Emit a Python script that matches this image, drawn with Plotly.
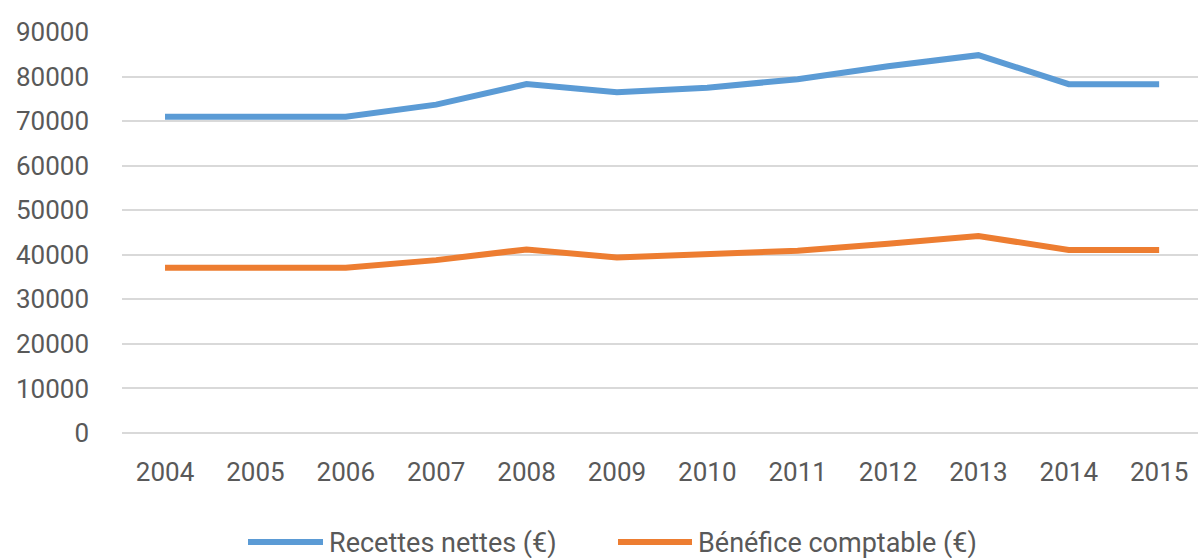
import plotly.graph_objects as go

years = ["2004", "2005", "2006", "2007", "2008", "2009", "2010", "2011", "2012", "2013", "2014", "2015"]
recettes = [71000, 71000, 71000, 73700, 78300, 76500, 77500, 79400, 82300, 84800, 78300, 78300]
benefice = [37100, 37100, 37100, 38800, 41200, 39400, 40000, 40900, 42500, 44200, 41100, 41100]
y_ticks = [0, 10000, 20000, 30000, 40000, 50000, 60000, 70000, 80000, 90000]
series_names = ["Recettes nettes (€)", "Bénéfice comptable (€)"]
series_colors = ["#5B9BD5", "#ED7D31"]

FONT = "Roboto, sans-serif"
TXT = "#595959"
W, H = 1198, 558
L, R, T, B = 122, 0, 32, 125
PW, PH = W - L - R, H - T - B


def px_x(px):
    return (px - L) / PW


def px_y(py):
    return (H - B - py) / PH


fig = go.Figure()
for name, vals, col in zip(series_names, [recettes, benefice], series_colors):
    fig.add_trace(go.Scatter(x=years, y=vals, mode="lines", name=name,
                             line=dict(color=col, width=6), showlegend=False,
                             hoverinfo="skip"))

# custom legend (long line keys like the reference)
legend_items = [(248, 323, 327), (618, 692, 696)]
shapes, annotations = [], []
for (x0, x1, xt), name, col in zip(legend_items, series_names, series_colors):
    shapes.append(dict(type="line", xref="paper", yref="paper",
                       x0=px_x(x0), x1=px_x(x1), y0=px_y(542), y1=px_y(542),
                       line=dict(color=col, width=6)))
    annotations.append(dict(xref="paper", yref="paper", x=px_x(xt), y=px_y(543),
                            xanchor="left", yanchor="middle", text=name, showarrow=False,
                            font=dict(size=27, color=TXT, family=FONT)))

fig.update_layout(
    width=W, height=H,
    margin=dict(l=L, r=R, t=T, b=B, autoexpand=False),
    paper_bgcolor="white", plot_bgcolor="white",
    font=dict(family=FONT, size=26, color=TXT),
    xaxis=dict(type="category", range=[-0.476, 11.43], showgrid=False, showline=False,
               ticks="", tickfont=dict(size=26, color=TXT), ticklabelstandoff=21,
               automargin=False),
    yaxis=dict(range=[0, 90000], tickvals=y_ticks, ticktext=[str(v) for v in y_ticks],
               showgrid=True, gridcolor="#D9D9D9", gridwidth=2,
               zeroline=True, zerolinecolor="#D9D9D9", zerolinewidth=2,
               showline=False, ticks="", tickfont=dict(size=26, color=TXT),
               ticklabelstandoff=32, automargin=False),
    shapes=shapes,
    annotations=annotations,
    showlegend=False,
)

fig.write_html("out.html", config={"displayModeBar": False},
               post_script="document.body.style.margin='0';")
